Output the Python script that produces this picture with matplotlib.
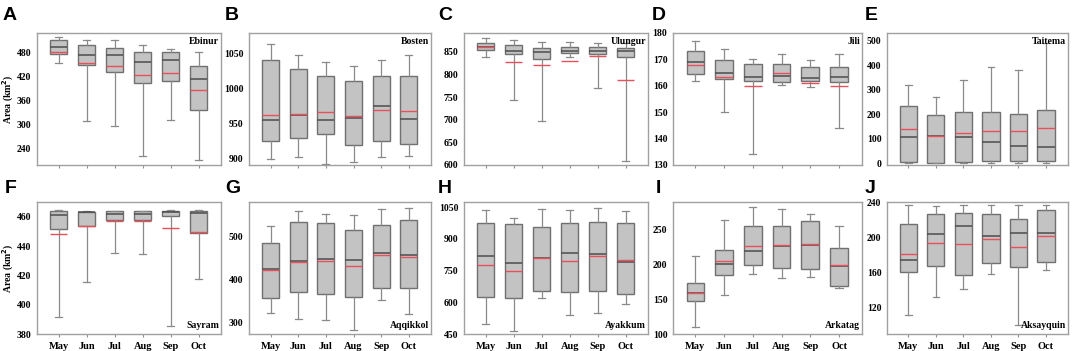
import matplotlib
matplotlib.use('agg')
import matplotlib.pyplot as plt

months = ['May', 'Jun', 'Jul', 'Aug', 'Sep', 'Oct']

# rows: whisker low, q1, median, q3, whisker high, mean (one column per month)
ebinur = [[455, 311, 297, 222, 313, 212],
          [478, 450, 432, 405, 411, 337],
          [494, 475, 475, 458, 462, 415],
          [513, 499, 492, 482, 482, 448],
          [519, 513, 512, 500, 490, 482],
          [483, 455, 447, 426, 430, 387]]
bosten = [[899, 903, 893, 895, 902, 904],
          [926, 929, 935, 920, 925, 921],
          [955, 963, 955, 959, 975, 957],
          [1041, 1028, 1019, 1011, 1019, 1018],
          [1064, 1049, 1038, 1033, 1041, 1048],
          [962, 964, 967, 961, 970, 968]]
ulungur = [[839, 744, 697, 838, 771, 609],
           [854, 845, 835, 848, 845, 840],
           [860, 852, 849, 853, 852, 853],
           [869, 866, 859, 860, 860, 858],
           [881, 877, 873, 871, 870, 870],
           [860, 828, 821, 831, 842, 789]]
jili = [[162.0, 150.0, 134.2, 160.2, 159.5, 144.2],
        [164.6, 162.5, 161.9, 161.6, 161.8, 161.5],
        [168.9, 164.7, 163.5, 163.7, 162.8, 163.5],
        [173.0, 169.9, 168.2, 168.2, 167.0, 167.0],
        [177.1, 173.9, 170.0, 172.0, 169.9, 172.1],
        [167.8, 163.4, 159.9, 164.9, 160.9, 160.1]]
taitema = [[0, -1, 0, 0, 0, 0],
           [6, 0, 3, 7, 7, 10],
           [105, 109, 105, 85, 70, 66],
           [234, 197, 208, 208, 200, 218],
           [317, 271, 339, 391, 378, 489],
           [138, 112, 123, 132, 130, 142]]
sayram = [[391.6, 415.4, 435.5, 434.8, 385.4, 417.3],
          [451.6, 453.6, 457.7, 457.5, 460.7, 448.9],
          [461.4, 463.2, 461.6, 461.8, 463.4, 462.7],
          [463.9, 463.4, 463.6, 463.6, 463.6, 463.6],
          [464.3, 464.1, 464.1, 464.1, 464.3, 464.3],
          [448.4, 453.4, 457.3, 457.0, 452.5, 449.8]]
aqqikkol = [[322, 306, 305, 281, 351, 319],
            [357, 371, 366, 359, 380, 380],
            [423, 442, 448, 446, 462, 457],
            [485, 534, 532, 515, 527, 540],
            [524, 561, 552, 551, 564, 567],
            [421, 441, 442, 431, 456, 453]]
ayakkum = [[497, 463, 620, 538, 549, 591],
           [625, 620, 652, 649, 652, 640],
           [821, 785, 812, 834, 829, 791],
           [976, 969, 957, 977, 979, 976],
           [1039, 999, 1041, 1037, 1045, 1033],
           [777, 747, 810, 797, 821, 802]]
arkatag = [[110, 156, 186, 180, 182, 166.3],
           [147.6, 185, 198.6, 195, 193.7, 169.7],
           [159.1, 201, 218.8, 227, 228.8, 198],
           [173, 221, 255.3, 255.3, 262.5, 223.5],
           [212.5, 264, 282.7, 280.3, 273, 254.8],
           [159.6, 205.3, 226.4, 227.4, 229.8, 199]]
aksayquin = [[111.6, 132, 142, 158.3, 100, 162.9],
             [160.6, 167.4, 157.2, 171.2, 166.3, 172.4],
             [174.7, 203.9, 213, 202, 205.4, 205.4],
             [216, 227.8, 228.6, 227, 222, 231.6],
             [237, 236.6, 237.7, 237.3, 237.7, 237.7],
             [181.5, 194, 193.3, 198.2, 189.5, 202.4]]

names = ['Ebinur', 'Bosten', 'Ulungur', 'Jili', 'Taitema',
         'Sayram', 'Aqqikkol', 'Ayakkum', 'Arkatag', 'Aksayquin']
letters = ['A', 'B', 'C', 'D', 'E', 'F', 'G', 'H', 'I', 'J']
tables = [ebinur, bosten, ulungur, jili, taitema,
          sayram, aqqikkol, ayakkum, arkatag, aksayquin]
ylims = [(200, 530), (891, 1080), (600, 892), (130, 180), (-8, 531),
         (380, 470), (272, 581), (450, 1075), (100, 290), (90, 241)]
yticks = [[240, 300, 360, 420, 480], [900, 950, 1000, 1050],
          [600, 650, 700, 750, 800, 850], [130, 140, 150, 160, 170, 180],
          [0, 100, 200, 300, 400, 500], [380, 400, 420, 440, 460],
          [300, 400, 500], [450, 600, 750, 900, 1050],
          [100, 150, 200, 250], [120, 160, 200, 240]]

W, H = 1072, 351
fig = plt.figure(figsize=(W / 100, H / 100), dpi=100)

serif = 'Liberation Serif'
col_left = [37, 249, 464, 673, 887]
col_right = [221, 431, 648, 862, 1068]
row_top = [33, 202]
row_bot = [165, 334]
letter_x = [[3, 225, 438, 652, 865], [5, 225, 438, 656, 865]]
letter_y = [20, 193]

for k in range(10):
    r, c = divmod(k, 5)
    ax = fig.add_axes([col_left[c] / W, 1 - row_bot[r] / H,
                       (col_right[c] - col_left[c]) / W,
                       (row_bot[r] - row_top[r]) / H])
    t = tables[k]
    stats = []
    for i in range(6):
        stats.append(dict(whislo=t[0][i], q1=t[1][i], med=t[2][i],
                          q3=t[3][i], whishi=t[4][i], mean=t[5][i],
                          fliers=[]))
    ax.bxp(stats, positions=range(1, 7), widths=0.62, showmeans=True,
           meanline=True, patch_artist=True, showfliers=False,
           capwidths=0.25,
           boxprops=dict(facecolor='#c3c3c3', edgecolor='#707070', linewidth=1),
           whiskerprops=dict(color='#8a8a8a', linewidth=0.9),
           capprops=dict(color='#8a8a8a', linewidth=0.9),
           medianprops=dict(color='#4d4d4d', linewidth=1.1),
           meanprops=dict(color='#e8505a', linewidth=1, linestyle='-'))
    ax.set_xlim(0.22, 6.8)
    ax.set_ylim(*ylims[k])
    ax.set_yticks(yticks[k])
    ax.set_xticks(range(1, 7))
    if r == 1:
        ax.set_xticklabels(months)
    else:
        ax.set_xticklabels([])
    for lab in ax.get_xticklabels() + ax.get_yticklabels():
        lab.set_fontfamily(serif)
        lab.set_fontweight('bold')
    ax.tick_params(axis='x', length=2.5, color='#909090', labelsize=7.5, pad=3)
    ax.tick_params(axis='y', length=0, labelsize=7, pad=4)
    for s in ax.spines.values():
        s.set_color('#a0a0a0')
        s.set_linewidth(1)
    if r == 0:
        ax.text(0.99, 0.97, names[k], transform=ax.transAxes, ha='right',
                va='top', fontsize=7, fontfamily=serif, fontweight='bold')
    else:
        ax.text(0.99, 0.03, names[k], transform=ax.transAxes, ha='right',
                va='bottom', fontsize=7, fontfamily=serif, fontweight='bold')
    if c == 0:
        ax.set_ylabel('Area (km$^\\mathbf{2}$)', fontsize=7, fontfamily=serif,
                      fontweight='bold')
        ax.yaxis.set_label_coords(-0.115, 0.5)
    fig.text(letter_x[r][c] / W, 1 - letter_y[r] / H, letters[k],
             fontsize=14, fontfamily='Liberation Sans', fontweight='bold',
             ha='left', va='baseline')

fig.savefig('out.png', dpi=100)
